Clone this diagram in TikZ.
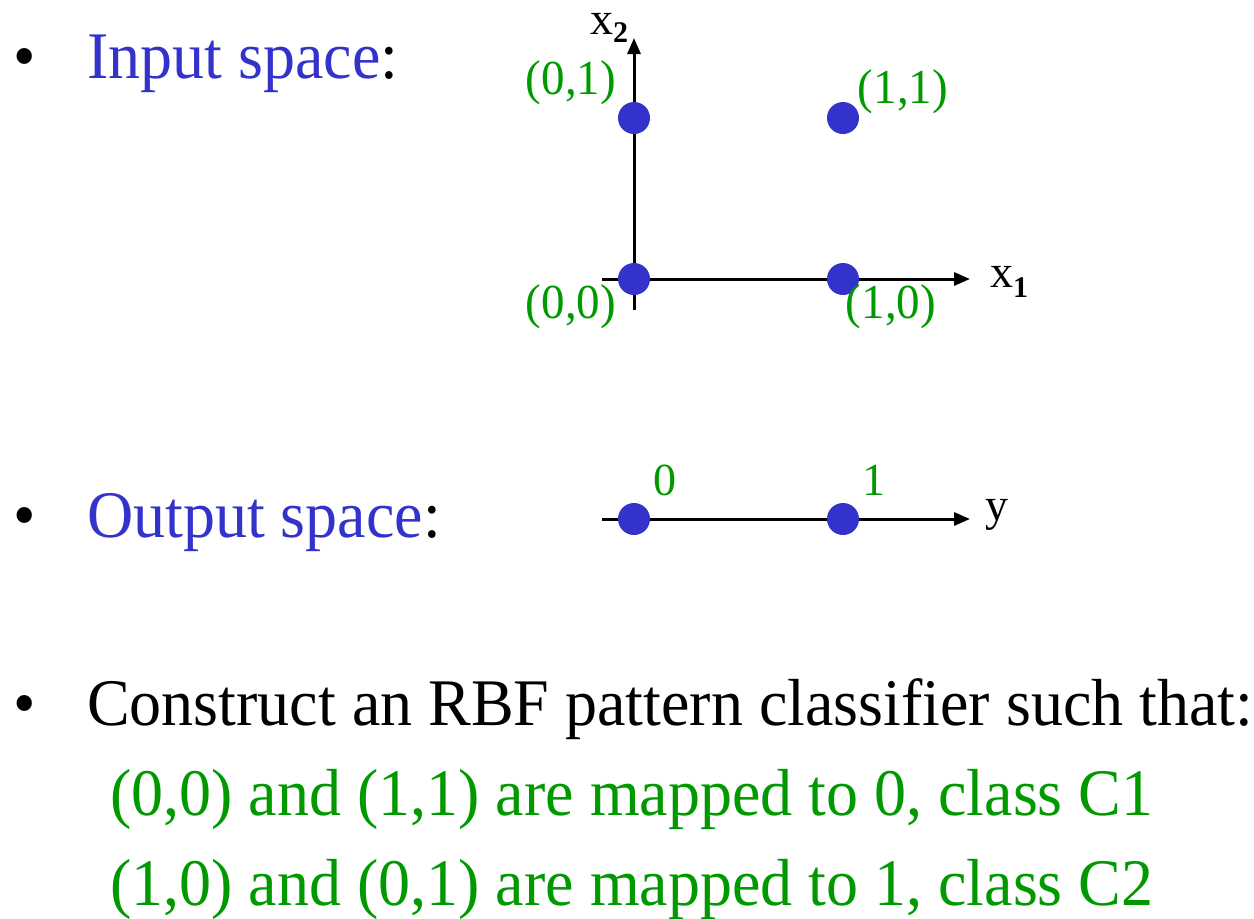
\documentclass[tikz,border=0pt]{standalone}
\usepackage{fontspec}
\setmainfont{Liberation Serif}
\usetikzlibrary{arrows.meta}
\definecolor{dotblue}{HTML}{3333CC}
\definecolor{lblgreen}{HTML}{009900}
\begin{document}
\begin{tikzpicture}[x=1pt,y=-1pt,
  txt/.style={inner sep=0pt, anchor=base west, yscale=1.04, font=\fontsize{64}{70}\selectfont},
  lbl/.style={inner sep=0pt, text=lblgreen, yscale=1.04, font=\fontsize{47}{50}\selectfont},
  axlbl/.style={inner sep=0pt, anchor=base west, font=\fontsize{46}{50}\selectfont},
  dot/.style={circle, fill=dotblue, minimum size=32pt, inner sep=0pt},
  axis/.style={line width=3pt, -{Triangle[length=16pt,width=13pt]}},
]
\useasboundingbox (0,0) rectangle (1254,919);

% bullets and text
\node[txt] (b1) at (13,78) {•};
\node[txt] (t1) at (87,78) {\textcolor{dotblue}{Input space}:};
\node[txt] (b2) at (13,537) {•};
\node[txt] (t2) at (87,537) {\textcolor{dotblue}{Output space}:};
\node[txt] (b3) at (13,725) {•};
\node[txt] (t3) at (87,725) {Construct an RBF pattern classifier such that:};
\node[txt, text=lblgreen] (g1) at (110,815) {(0,0) and (1,1) are mapped to 0, class C1};
\node[txt, text=lblgreen] (g2) at (110,905) {(1,0) and (0,1) are mapped to 1, class C2};

% input space axes
\coordinate (x1s) at (602,279);
\coordinate (x1e) at (970,279);
\coordinate (x2s) at (634,310);
\coordinate (x2e) at (634,38);
\draw[axis] (x1s) -- (x1e);
\draw[axis] (x2s) -- (x2e);
\node[axlbl] (x2l) at (590,34) {x\raisebox{-8pt}{\fontsize{30}{30}\selectfont\bfseries 2}};
\node[axlbl] (x1l) at (990,287) {x\raisebox{-10pt}{\fontsize{30}{30}\selectfont\bfseries 1}};

\node[dot] (d00) at (634,279) {};
\node[dot] (d10) at (843,279) {};
\node[dot] (d01) at (634,118) {};
\node[dot] (d11) at (843,118) {};

\node[lbl] (l01) at (571,83) {(0,1)};
\node[lbl] (l11) at (903,92) {(1,1)};
\node[lbl] (l00) at (571,307) {(0,0)};
\node[lbl] (l10) at (891,307) {(1,0)};

% output space axis
\coordinate (ys) at (602,519);
\coordinate (ye) at (970,519);
\draw[axis] (ys) -- (ye);
\node[axlbl] (yl) at (985,520) {y};
\node[dot] (o0) at (634,519) {};
\node[dot] (o1) at (843,519) {};
\node[axlbl, text=lblgreen] (o0l) at (653,495) {0};
\node[axlbl, text=lblgreen] (o1l) at (862,495) {1};
\end{tikzpicture}
\end{document}
